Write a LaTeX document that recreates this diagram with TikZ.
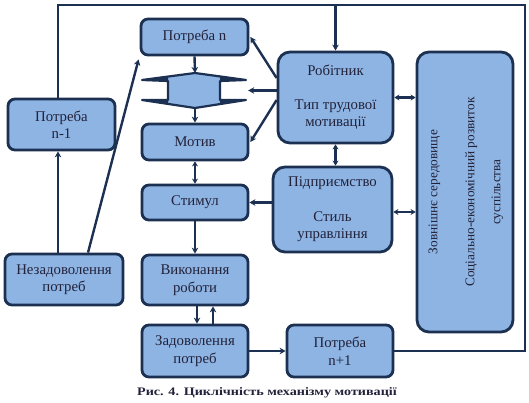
\documentclass[tikz,border=0pt]{standalone}
\usepackage{fontspec}
\setmainfont{Liberation Serif}
\usepackage{graphicx}
\usetikzlibrary{arrows.meta}
\definecolor{boxfill}{HTML}{8EB4E3}
\definecolor{boxline}{HTML}{1C3152}
\definecolor{txt}{HTML}{22223A}
\begin{document}
\begin{tikzpicture}[x=1pt,y=-1pt,
 box/.style={draw=boxline, fill=boxfill, line width=2.8pt, rounded corners=7pt, align=center, text=txt, font=\fontsize{14.8}{17.5}\selectfont, inner sep=0pt},
 bigbox/.style={box, rounded corners=12pt},
 conn/.style={draw=boxline, line width=2.4pt},
 arr/.style={conn, -{Stealth[length=6pt,width=6.5pt]}},
 darr/.style={conn, {Stealth[length=5pt,width=6pt]}-{Stealth[length=5pt,width=6pt]}},
]
\useasboundingbox (0,0) rectangle (529,403);

% boxes
\node[box, minimum width=107pt, minimum height=36pt] (pn) at (194.5,37) {Потреба n};
\node[box, minimum width=106pt, minimum height=36pt] (motiv) at (195,142) {Мотив};
\node[box, minimum width=106pt, minimum height=35pt] (stim) at (195,202.5) {Стимул};
\node[box, minimum width=106pt, minimum height=50pt] (vyk) at (195,280) {Виконання\\роботи};
\node[box, minimum width=106pt, minimum height=52pt] (zad) at (195,351) {Задоволення\\потреб};
\node[box, minimum width=118pt, minimum height=51pt] (nez) at (64,279.5) {Незадоволення\\потреб};
\node[box, minimum width=107pt, minimum height=51pt] (pn1) at (61.5,124.5) {Потреба\\n-1};
\node[bigbox, minimum width=115pt, minimum height=91pt] (rob) at (335.5,97.5) {Робітник\\[16pt]Тип трудової\\мотивації};
\node[bigbox, minimum width=119pt, minimum height=85pt] (pid) at (332.5,209.5) {Підприємство\\[17pt]Стиль\\управління};
\node[bigbox, minimum width=96pt, minimum height=280pt] (zov) at (465,192) {};
\node[rotate=90, align=center, text=txt, font=\fontsize{13.3}{26}\selectfont] (zovtxt) at ([xshift=1pt]zov.center) {Зовнішнє середовище\\[11pt]Соціально-економічний розвиток\\суспільства};
\node[box, minimum width=106pt, minimum height=52pt] (pnp1) at (340,351) {Потреба\\n+1};

% hourglass
\node[minimum width=104pt, minimum height=35pt, inner sep=0pt] (hg) at (194,90.5) {};
\draw[draw=boxline, fill=boxfill, line width=2.2pt, line join=round]
  (142,80) -- (195,73) -- (246,80) -- (220,81) -- (220,100) -- (246,100) -- (195,108)
  -- (142,100) -- (168,100) -- (168,81) -- cycle;
\fill[boxline] (142,80) -- (168,76.5) -- (168,81) -- cycle;
\fill[boxline] (246,80) -- (220,76.5) -- (220,81) -- cycle;
\fill[boxline] (142,100) -- (168,104.5) -- (168,100) -- cycle;
\fill[boxline] (246,100) -- (220,104.5) -- (220,100) -- cycle;
\coordinate (hgT) at (195,73);
\coordinate (hgB) at (195,108);

% loop line
\coordinate (cR) at (525,351);
\coordinate (cT) at (525,5);
\coordinate (cL) at (58,5);
\coordinate (robtop) at (335.5,5);
\draw[conn, line join=miter] (pnp1.east) -- (cR) -- (cT) -- (cL) -- (cL |- pn1.north);
\draw[arr] (robtop) -- (rob.north);

% left side
\draw[arr] (cL |- nez.north) -- (cL |- pn1.south);
\draw[arr] ([xshift=24pt]nez.north) -- ([xshift=-1pt,yshift=-3pt]pn.south west);

% central column
\draw[arr] (pn.south) -- (hgT);
\draw[arr] (hgB) -- (motiv.north);
\draw[darr] (motiv.south) -- (stim.north);
\draw[arr] (stim.south) -- (vyk.north);
\draw[arr] ([xshift=2pt]vyk.south) -- ([xshift=2pt]zad.north);
\draw[arr] ([xshift=18pt]zad.north) -- ([xshift=18pt]vyk.south);
\draw[arr] (zad.east) -- (pnp1.west);

% from Robitnyk
\draw[arr] ([yshift=19.5pt]rob.west) -- ([xshift=1pt]pn.east);
\draw[arr] (rob.west |- hg.east) -- ([xshift=2pt]hg.east);
\draw[arr] ([yshift=-2.5pt]rob.west) -- ([xshift=1pt]motiv.east);
\draw[darr] (rob.south) -- (rob.south |- pid.north);
\draw[darr] (rob.east) -- (rob.east -| zov.west);
\draw[darr] ([yshift=-2.5pt]pid.east) -- ([yshift=-2.5pt]pid.east -| zov.west);
\draw[arr] (pid.west |- stim.east) -- (stim.east);

% caption
\node[font=\fontsize{11.5}{12}\selectfont\bfseries, text=txt] (cap) at (267,393) {\scalebox{1.23}[1]{Рис. 4. Циклічність механізму мотивації}};
\end{tikzpicture}
\end{document}
